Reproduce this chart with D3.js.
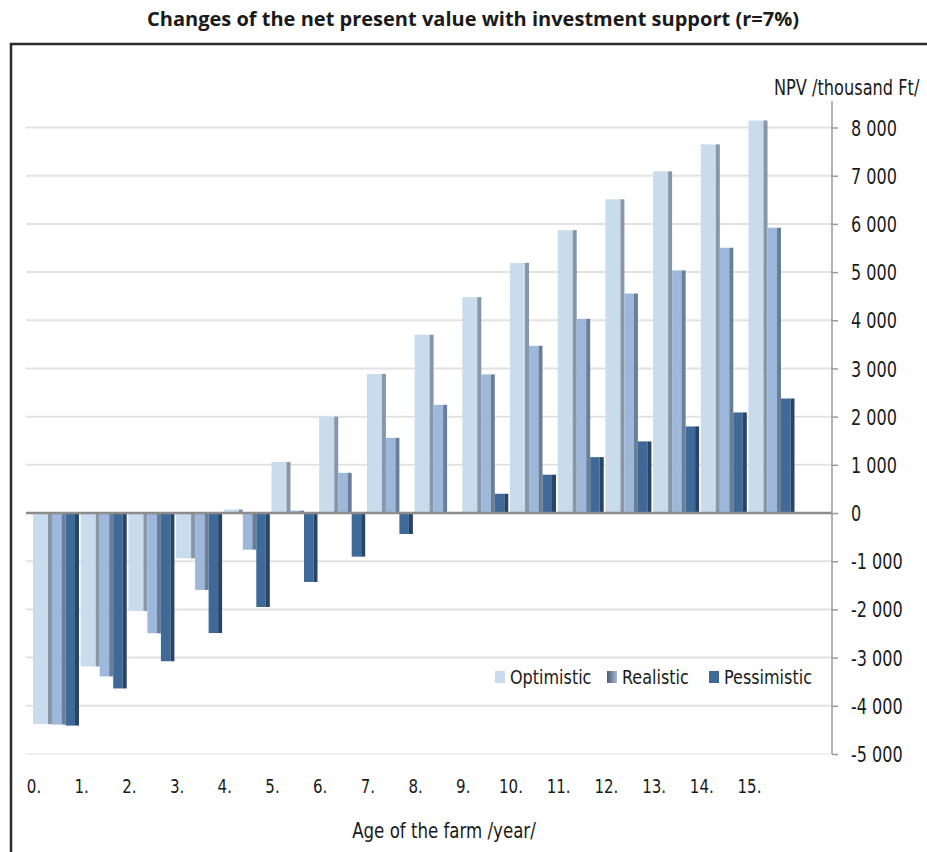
<!DOCTYPE html>
<html>
<head>
<meta charset="utf-8">
<script src="https://cdn.jsdelivr.net/npm/d3@7"></script>
<style>
  body { margin: 0; background: #fff; }
  text { font-family: "DejaVu Sans Condensed", "Liberation Sans Narrow", sans-serif; fill: #1a1a1a; }
</style>
</head>
<body>
<svg id="drawing_region"></svg>
<script>
var years = ["0.", "1.", "2.", "3.", "4.", "5.", "6.", "7.", "8.", "9.", "10.", "11.", "12.", "13.", "14.", "15."];
var optimistic  = [-4380, -3185, -2030, -940, 75, 1060, 2000, 2885, 3700, 4480, 5190, 5870, 6510, 7090, 7650, 8145];
var realistic   = [-4390, -3390, -2495, -1595, -760, 50, 835, 1560, 2245, 2877, 3470, 4030, 4555, 5035, 5505, 5920];
var pessimistic = [-4410, -3640, -3075, -2490, -1950, -1430, -905, -435, -15, 400, 795, 1160, 1486, 1797, 2087, 2377];
var seriesNames = ["Optimistic", "Realistic", "Pessimistic"];
var yTicks = [-5000, -4000, -3000, -2000, -1000, 0, 1000, 2000, 3000, 4000, 5000, 6000, 7000, 8000];

var width = 927;
var height = 852;

// per-series look: face colour, side colour, face width
var styles = [
    {face: '#c9dcee', side: '#8896a8', w: 15},
    {face: '#9db8da', side: '#6a7e98', w: 9.5},
    {face: '#3e6998', side: '#2a4464', w: 9.5}
];
var sideW = 4;

// squeeze text horizontally (the original uses a narrow font)
function squeeze(sel, k) {
    sel.each(function() {
        var len = this.getComputedTextLength();
        d3.select(this)
            .attr('textLength', len * k)
            .attr('lengthAdjust', 'spacingAndGlyphs');
    });
}

var svg = d3.select('#drawing_region')
    .attr('width', width)
    .attr('height', height);

// frame
svg.append('path')
    .attr('d', 'M11,852 L11,44 L927,44')
    .attr('fill', 'none')
    .attr('stroke', '#2b2b2b')
    .attr('stroke-width', 2.5);

// title
svg.append('text')
    .attr('x', 473)
    .attr('y', 26)
    .attr('text-anchor', 'middle')
    .attr('textLength', 652)
    .attr('lengthAdjust', 'spacingAndGlyphs')
    .style('font-family', '"Open Sans", Lato, sans-serif')
    .style('font-weight', 'bold')
    .style('font-size', '19px')
    .text('Changes of the net present value with investment support (r=7%)');

const xscale = d3.scaleBand()
      .domain(years)
      .range([33, 33 + 47.7 * years.length])
      .paddingInner(0)
      .paddingOuter(0);

const yscale = d3.scaleLinear()
      .domain([-5000, 8000])
      .range([754, 127.5]);

const locale = d3.formatLocale({decimal: '.', thousands: ' ', grouping: [3], currency: ['', ''], minus: '-'});
const fmt = locale.format(',');

// gridlines
svg.append('g')
    .selectAll('line')
    .data(yTicks.filter(d => d !== 0))
    .join('line')
    .attr('x1', 26)
    .attr('x2', 832)
    .attr('y1', d => yscale(d))
    .attr('y2', d => yscale(d))
    .attr('stroke', d => d === -5000 ? '#f0f0f0' : '#e2e2e2')
    .attr('stroke-width', 2);

// bars
var allSeries = [optimistic, realistic, pessimistic];
var offsets = [];
var acc = 0;
styles.forEach(function(s) { offsets.push(acc); acc += s.w + sideW; });

allSeries.forEach(function(values, si) {
    var s = styles[si];
    var g = svg.append('g');
    var rows = values.map((v, i) => ({year: years[i], v: v}));
    g.selectAll('rect.face')
        .data(rows)
        .join('rect')
        .attr('class', 'face')
        .attr('x', d => xscale(d.year) + offsets[si])
        .attr('y', d => Math.min(yscale(d.v), yscale(0)))
        .attr('width', s.w)
        .attr('height', d => Math.max(1, Math.abs(yscale(d.v) - yscale(0))))
        .attr('fill', s.face);
    g.selectAll('rect.side')
        .data(rows)
        .join('rect')
        .attr('class', 'side')
        .attr('x', d => xscale(d.year) + offsets[si] + s.w)
        .attr('y', d => Math.min(yscale(d.v), yscale(0)))
        .attr('width', sideW)
        .attr('height', d => Math.max(1, Math.abs(yscale(d.v) - yscale(0))))
        .attr('fill', s.side);
});

// zero line
svg.append('line')
    .attr('x1', 26)
    .attr('x2', 832)
    .attr('y1', yscale(0))
    .attr('y2', yscale(0))
    .attr('stroke', '#8c8c8c')
    .attr('stroke-width', 2.5);

// y axis on the right
const yaxis = d3.axisRight(yscale)
      .tickValues(yTicks)
      .tickSize(6)
      .tickPadding(13)
      .tickFormat(d => fmt(d));

const yaxis_group = svg.append('g')
      .attr('transform', 'translate(832, 0)')
      .call(yaxis);
yaxis_group.select('.domain')
    .attr('d', `M0,101V${yscale(-5000)}`)
    .attr('stroke', '#9a9a9a')
    .attr('stroke-width', 1.5);
yaxis_group.selectAll('.tick line').attr('stroke', '#9a9a9a').attr('stroke-width', 1.5);
yaxis_group.selectAll('.tick text')
    .attr('fill', '#1a1a1a')
    .style('font-family', '"DejaVu Sans Condensed", sans-serif')
    .style('font-size', '21px')
    .attr('dy', '0.36em')
    .call(squeeze, 0.85);

// axis title, a bit taller than wide like the narrow original
svg.append('text')
    .attr('transform', 'translate(774, 95) scale(1, 1.15)')
    .style('font-size', '18px')
    .text('NPV /thousand Ft/');

// x labels
svg.append('g')
    .selectAll('text')
    .data(years)
    .join('text')
    .attr('x', d => xscale(d) + 1)
    .attr('y', 793)
    .attr('text-anchor', 'middle')
    .style('font-size', '19px')
    .text(d => d)
    .call(squeeze, 0.88);

svg.append('text')
    .attr('x', 444)
    .attr('y', 838)
    .attr('text-anchor', 'middle')
    .style('font-size', '21px')
    .text('Age of the farm /year/')
    .call(squeeze, 0.88);

// legend
var defs = svg.append('defs');
var grad = defs.append('linearGradient').attr('id', 'realGrad');
grad.append('stop').attr('offset', '0%').attr('stop-color', '#4e5c70');
grad.append('stop').attr('offset', '100%').attr('stop-color', '#a4b9d6');

var legendX = [495, 607, 709];
var legendFill = [styles[0].face, 'url(#realGrad)', styles[2].face];
var legend = svg.append('g');
seriesNames.forEach(function(name, i) {
    legend.append('rect')
        .attr('x', legendX[i])
        .attr('y', 671)
        .attr('width', 10)
        .attr('height', 12)
        .attr('fill', legendFill[i]);
    legend.append('text')
        .attr('x', legendX[i] + 15)
        .attr('y', 684)
        .style('font-size', '20px')
        .text(name)
        .call(squeeze, 0.89);
});
</script>
</body>
</html>
